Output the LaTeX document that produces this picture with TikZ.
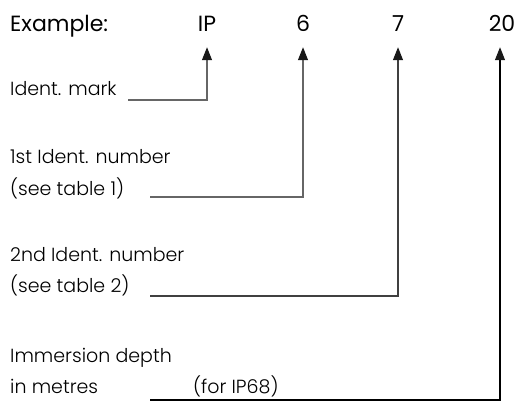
\documentclass[tikz,border=0pt]{standalone}
\usepackage{fontspec}
\setmainfont{Poppins}[UprightFont={* Light}, BoldFont={*}]
\usepackage{tikz}
\usetikzlibrary{positioning,arrows.meta,calc}
\tikzset{
  % header item (Example:, IP, 6, 7, 20)
  head/.style  = {anchor=base, inner xsep=0pt, inner ysep=15pt, text depth=0pt,
                  font=\fontsize{22}{26}\selectfont\bfseries},
  % explanatory label, placed by its baseline
  lbl/.style   = {anchor=base west, inner sep=0pt,
                  font=\fontsize{19}{23}\selectfont},
  % leader line ending in an arrow
  lead/.style  = {-{Triangle[length=13pt, width=10pt, color=black!90]},
                  line width=1.2pt, black!60},
}
\begin{document}
\begin{tikzpicture}[x=1pt, y=-1pt]
  \useasboundingbox (0,0) rectangle (519,401);

  % header row
  \node[head, anchor=base west] (ex) at (10,32) {Example:};
  \node[head] (ip)  at (207,32) {IP};
  \node[head] (n6)  at (303,32) {6};
  \node[head] (n7)  at (398,32) {7};
  \node[head] (n20) at (502,32) {20};

  % labels
  \node[lbl] (mark)      at (10,96)  {Ident. mark};
  \node[lbl] (first)     at (10,163) {1st Ident. number};
  \node[lbl] (firsttab)  at (10,195) {(see table 1)};
  \node[lbl] (second)    at (10,261) {2nd Ident. number};
  \node[lbl] (secondtab) at (10,292) {(see table 2)};
  \node[lbl] (depth)     at (10,362) {Immersion depth};
  \node[lbl] (metres)    at (10,393) {in metres};
  \node[lbl] (ip68)      at (193,393) {(for IP68)};

  % free ends of the leaders
  \coordinate (l0) at (128,100);
  \coordinate (l1) at (150,197);
  \coordinate (l2) at (150,296);
  \coordinate (l3) at (150,400);

  % --- leaders ---
  \draw[lead] (l0) -| (ip.south);
  \draw[lead] (l1) -| (n6.south);
  \draw[lead, black!75] (l2) -| (n7.south);
  \draw[lead, black] (l3) -| ([xshift=-2pt]n20.south);

\end{tikzpicture}
\end{document}
